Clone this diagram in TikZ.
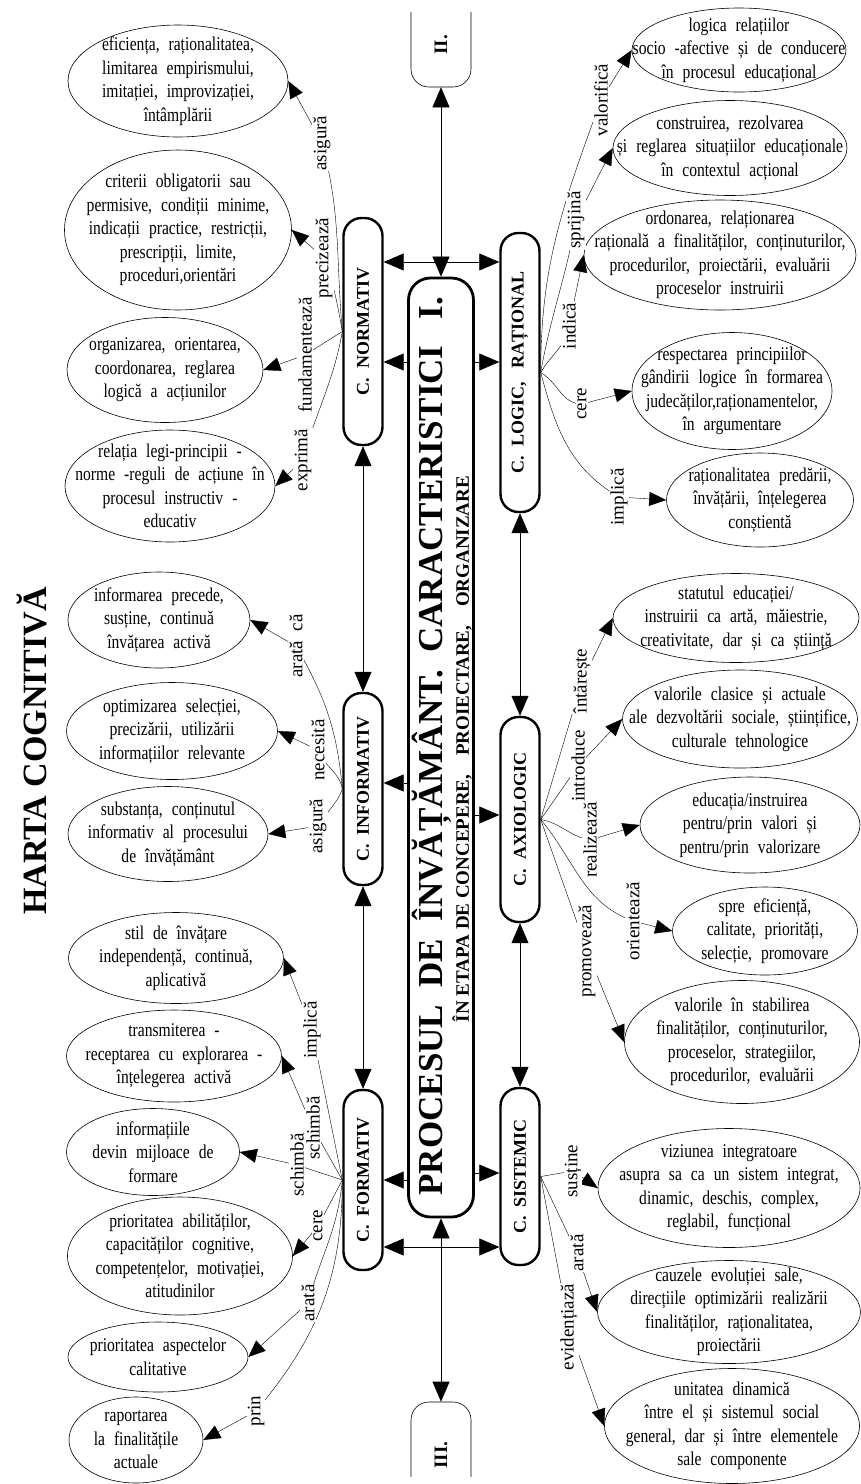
\documentclass[tikz,border=0pt]{standalone}
\usepackage{fontspec}
\setmainfont{Liberation Serif}
\newfontfamily\narrowserif[FakeStretch=0.8,WordSpace=2.3]{Liberation Serif}
\usetikzlibrary{arrows.meta,shapes.geometric,backgrounds}

% ellipse with its text: name, centre, width, height, text
\newcommand{\bubble}[5]{%
  \node[bubble, minimum width=#3pt, minimum height=#4pt] (#1) at (#2) {};
  \node[bubbletext] (#1t) at (#1.center) {#5};
}

\begin{document}
\begin{tikzpicture}[
    x=1pt, y=1pt,
    line width=0.6pt,
    tip/.style={-{Triangle[length=17pt,width=14pt]}},        % ellipse arrows
    onetip/.style={-{Triangle[length=20pt,width=17pt]}},
    twotip/.style={{Triangle[length=20pt,width=17pt]}-{Triangle[length=20pt,width=17pt]}},
    bubble/.style={ellipse, draw, inner sep=0pt},
    bubbletext/.style={align=center, inner sep=0pt,
        font=\narrowserif\fontsize{19.5}{23.5}\selectfont},
    cbox/.style={draw, line width=2.4pt, fill=white, rounded corners=18pt,
        minimum width=39pt, inner sep=0pt,
        font=\bfseries\fontsize{18}{20}\selectfont},
    verb/.style={rotate=90, fill=white, inner sep=1pt,
        font=\fontsize{19}{20}\selectfont},
    part/.style={draw, rounded corners=18pt, minimum width=60pt,
        minimum height=150pt}
]
\useasboundingbox (0,0) rectangle (861,-1484);

% title
\node[rotate=90, font=\bfseries\fontsize{34}{36}\selectfont] (title)
    at (32,-751) {HARTA COGNITIVĂ};

% central block
\node[draw, line width=2.8pt, rounded corners=22pt, minimum width=65pt,
    minimum height=939pt] (proc) at (441,-747.5) {};
\node[rotate=90, font=\bfseries\fontsize{35}{36}\selectfont] (proct)
    at (432,-746) {PROCESUL\ \ DE\ \ ÎNVĂȚĂMÂNT.\ \ CARACTERISTICI\ \ \ I.};
\node[rotate=90, font=\bfseries\fontsize{19}{20}\selectfont] (procs)
    at (462,-749) {ÎN ETAPA DE CONCEPERE,\quad PROIECTARE,\quad ORGANIZARE};

\begin{scope}
\clip (395,-12) rectangle (490,-1476);
\node[part] (two) at (441,-12) {};
\node[part] (three) at (441,-1477) {};
\node[rotate=90, font=\bfseries\fontsize{19}{20}\selectfont] (twot) at (441,-45) {II.};
\node[rotate=90, font=\bfseries\fontsize{19}{20}\selectfont] (threet) at (441,-1455) {III.};
\end{scope}

% characteristics
\node[cbox, minimum height=227pt] (nrm) at (363,-331.5) {\rotatebox{90}{C.\ \ NORMATIV}};
\node[cbox, minimum height=192pt] (inf) at (363,-789) {\rotatebox{90}{C.\ \ INFORMATIV}};
\node[cbox, minimum height=180pt] (frm) at (363,-1180) {\rotatebox{90}{C.\ \ FORMATIV}};
\node[cbox, minimum height=279pt] (lgc) at (520,-372.5) {\rotatebox{90}{C.\ \ LOGIC,\ \ \ RAȚIONAL}};
\node[cbox, minimum height=205pt] (axi) at (520,-819.5) {\rotatebox{90}{C.\ \ AXIOLOGIC}};
\node[cbox, minimum height=177pt] (sis) at (520,-1176.5) {\rotatebox{90}{C.\ \ SISTEMIC}};

\coordinate (hn) at (441,-262);
\coordinate (hs) at (441,-1247);
\coordinate (a1) at (441,-362);
\coordinate (a2) at (441,-783);
\coordinate (a3) at (441,-815);
\coordinate (a4) at (441,-1180);
\coordinate (a5) at (441,-1173);

\draw[twotip] (two.south) -- (proc.north);
\draw[twotip] (proc.south) -- (three.north);
\draw[twotip] (nrm.east |- hn) -- (lgc.west |- hn);
\draw[twotip] (frm.east |- hs) -- (sis.west |- hs);
\draw[onetip] (proc.west |- a1) -- (nrm.east |- a1);
\draw[onetip] (proc.east |- a1) -- (lgc.west |- a1);
\draw[onetip] (proc.west |- a2) -- (inf.east |- a2);
\draw[onetip] (proc.east |- a3) -- (axi.west |- a3);
\draw[onetip] (proc.west |- a4) -- (frm.east |- a4);
\draw[onetip] (proc.east |- a5) -- (sis.west |- a5);
\draw[twotip] (nrm.south) -- (inf.north);
\draw[twotip] (inf.south) -- (frm.north);
\draw[twotip] (lgc.south) -- (axi.north);
\draw[twotip] (axi.south) -- (sis.north);

% left ellipses
\bubble{e1}{178,-81}{220}{112}{eficiența, raționalitatea,\\ limitarea empirismului,\\ imitației, improvizației,\\ întâmplării}
\bubble{e2}{178,-230}{227}{160}{criterii obligatorii sau\\ permisive, condiții minime,\\ indicații practice, restricții,\\ prescripții, limite,\\ proceduri,orientări}
\bubble{e3}{165,-370}{196}{105}{organizarea, orientarea,\\ coordonarea, reglarea\\ logică a acțiunilor}
\bubble{e4}{170,-486}{210}{112}{relația legi-principii -\\ norme -reguli de acțiune în\\ procesul instructiv -\\ educativ}
\bubble{e5}{159,-620}{182}{96}{informarea precede,\\ susține, continuă\\ învățarea activă}
\bubble{e6}{172,-731}{211}{97}{optimizarea selecției,\\ precizării, utilizării\\ informațiilor relevante}
\bubble{e7}{168,-834}{200}{95}{substanța, conținutul\\ informativ al procesului\\ de învățământ}
\bubble{e8}{176,-958}{215}{91}{stil de învățare\\ independență, continuă,\\ aplicativă}
\bubble{e9}{174,-1056}{215}{92}{transmiterea -\\ receptarea cu explorarea -\\ înțelegerea activă}
\bubble{e10}{153,-1152}{173}{87}{informațiile\\ devin mijloace de\\ formare}
\bubble{e11}{180,-1256}{225}{118}{prioritatea abilităților,\\ capacităților cognitive,\\ competențelor, motivației,\\ atitudinilor}
\bubble{e12}{158,-1357}{180}{70}{prioritatea aspectelor\\ calitative}
\bubble{e13}{136,-1440}{134}{86}{raportarea\\ la finalitățile\\ actuale}

% right ellipses
\bubble{r1}{739,-50}{214}{84}{logica relațiilor\\ socio -afective și de conducere\\ în procesul educațional}
\bubble{r2}{730,-148}{234}{95}{construirea, rezolvarea\\ și reglarea situațiilor educaționale\\ în contextul acțional}
\bubble{r3}{720,-255}{272}{110}{ordonarea, relaționarea\\ rațională a finalităților, conținuturilor,\\ procedurilor, proiectării, evaluării\\ proceselor instruirii}
\bubble{r4}{732,-391}{200}{117}{respectarea principiilor\\ gândirii logice în formarea\\ judecăților,raționamentelor,\\ în argumentare}
\bubble{r5}{760,-500}{187}{94}{raționalitatea predării,\\ învățării, înțelegerea\\ conștientă}
\bubble{r6}{736,-618}{246}{89}{statutul educației/\\ instruirii ca artă, măiestrie,\\ creativitate, dar și ca știință}
\bubble{r7}{740,-719}{235}{98}{valorile clasice și actuale\\ ale dezvoltării sociale, științifice,\\ culturale tehnologice}
\bubble{r8}{750,-825}{220}{96}{educația/instruirea\\ pentru/prin valori și\\ pentru/prin valorizare}
\bubble{r9}{765,-931}{185}{88}{spre eficiență,\\ calitate, priorități,\\ selecție, promovare}
\bubble{r10}{742,-1042}{235}{123}{valorile în stabilirea\\ finalităților, conținuturilor,\\ proceselor, strategiilor,\\ procedurilor, evaluării}
\bubble{r11}{729,-1188}{262}{119}{viziunea integratoare\\ asupra sa ca un sistem integrat,\\ dinamic, deschis, complex,\\ reglabil, funcțional}
\bubble{r12}{729,-1312}{263}{103}{cauzele evoluției sale,\\ direcțiile optimizării realizării\\ finalităților, raționalitatea,\\ proiectării}
\bubble{r13}{732,-1426}{255}{115}{unitatea dinamică\\ între el și sistemul social\\ general, dar și între elementele\\ sale componente}

% verbs on the connectors
\node[verb] (la) at (322,-143) {asigură};
\node[verb] (lb) at (324,-258) {precizează};
\node[verb] (lc) at (305,-355) {fundamentează};
\node[verb] (ld) at (303,-460) {exprimă};
\node[verb] (le) at (296,-646) {arată\ \ că};
\node[verb] (lf) at (318,-750) {necesită};
\node[verb] (lg) at (318,-826) {asigură};
\node[verb] (lh) at (312,-1030) {implică};
\node[verb] (li) at (313,-1128) {schimbă};
\node[verb] (lj) at (297,-1165) {schimbă};
\node[verb] (lk) at (318,-1226) {cere};
\node[verb] (ll) at (308,-1303) {arată};
\node[verb] (lm) at (256,-1411) {prin};
\node[verb] (ln) at (601,-100) {valorifică};
\node[verb] (lo) at (576,-220) {sprijină};
\node[verb] (lp) at (569,-326) {indică};
\node[verb] (lq) at (582,-404) {cere};
\node[verb] (lr) at (619,-497) {implică};
\node[verb] (ls) at (582,-681) {întărește};
\node[verb] (lt) at (578,-766) {introduce};
\node[verb] (lu) at (590,-840) {realizează};
\node[verb] (lv) at (633,-921) {orientează};
\node[verb] (lw) at (587,-951) {promovează};
\node[verb] (lx) at (573,-1171) {susține};
\node[verb] (ly) at (577,-1253) {arată};
\node[verb] (lz) at (569,-1327) {evidențiază};

\begin{pgfonlayer}{background}
% normativ
\draw[tip] (nrm.west) to[out=95,in=-75] (la.center) -- (e1.east);
\draw[tip] (nrm.west) to[out=100,in=-70] (lb.center) -- (e2.east);
\draw[tip] (nrm.west) -- (lc.center) -- (e3.east);
\draw[tip] (nrm.west) to[out=-100,in=75] (ld.center) -- (e4.east);
% informativ
\draw[tip] (inf.west) to[out=95,in=-60] (le.center) -- (e5.east);
\draw[tip] (inf.west) to[out=100,in=-70] (lf.center) -- (e6.east);
\draw[tip] (inf.west) to[out=-110,in=60] (lg.center) -- (e7.east);
% formativ
\draw[tip] (frm.west) -- (lh.center) -- (e8.east);
\draw[tip] (frm.west) -- (li.center) -- (e9.east);
\draw[tip] (frm.west) -- (lj.center) -- (e10.east);
\draw[tip] (frm.west) -- (lk.center) -- (e11.east);
\draw[tip] (frm.west) to[out=-95,in=75] (ll.center) -- (e12.east);
\draw[tip] (frm.west) to[out=-90,in=50] (lm.center) -- (e13.east);
% logic, rational
\draw[tip] (lgc.east) to[out=90,in=-110] (ln.center) -- (r1.west);
\draw[tip] (lgc.east) to[out=80,in=-100] (lo.center) -- (r2.west);
\draw[tip] (lgc.east) to[out=60,in=-100] (lp.center) -- (r3.west);
\draw[tip] (lgc.east) to[out=-30,in=180] (lq.center) -- (r4.west);
\draw[tip] (lgc.east) to[out=-75,in=150] (lr.center) -- (r5.west);
% axiologic
\draw[tip] (axi.east) -- (ls.center) -- (r6.west);
\draw[tip] (axi.east) -- (lt.center) -- (r7.west);
\draw[tip] (axi.east) to[out=-10,in=170] (lu.center) -- (r8.west);
\draw[tip] (axi.east) to[out=-50,in=160] (lv.center) -- (r9.west);
\draw[tip] (axi.east) -- (lw.center) -- (r10.west);
% sistemic
\draw[tip] (sis.east) -- (lx.center) -- (r11.west);
\draw[tip] (sis.east) -- (ly.center) -- (r12.west);
\draw[tip] (sis.east) -- (lz.center) -- (r13.west);
\end{pgfonlayer}
\end{tikzpicture}
\end{document}
